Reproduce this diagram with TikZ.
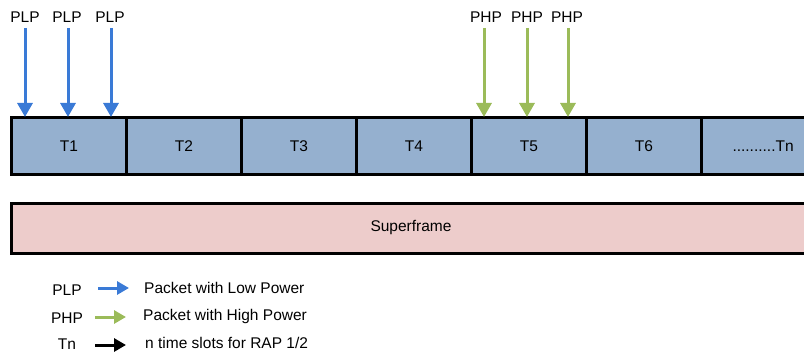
\documentclass[tikz,border=0pt]{standalone}
\usepackage{fontspec}
\setmainfont{Liberation Sans}
\usetikzlibrary{arrows.meta}
\definecolor{slotfill}{HTML}{95B0CF}
\definecolor{sframefill}{HTML}{EDCCCB}
\definecolor{plpblue}{HTML}{3A7AD6}
\definecolor{phpgreen}{HTML}{9BBB59}
\tikzset{
  slotbox/.style={draw=black, line width=3pt, fill=slotfill, minimum width=115pt, minimum height=57pt, anchor=north west, inner sep=0pt, font=\fontsize{15.5}{18}\selectfont},
  sfbox/.style={draw=black, line width=3pt, fill=sframefill, minimum width=820pt, minimum height=50pt, anchor=north west, inner sep=0pt},
  lbl/.style={font=\fontsize{15.5}{18}\selectfont, inner sep=0pt},
  plparrow/.style={draw=plpblue, line width=3pt, -{Triangle[length=14pt,width=15pt]}},
  phparrow/.style={draw=phpgreen, line width=3pt, -{Triangle[length=14pt,width=15pt]}},
  blkarrow/.style={draw=black, line width=3pt, -{Triangle[length=12pt,width=13pt]}},
}
\begin{document}
\begin{tikzpicture}[x=1pt,y=-1pt]
\useasboundingbox (0,0) rectangle (804,353);
\begin{scope}
\clip (0,0) rectangle (804,353);
% slots
\node[slotbox] (t1) at (10,116) {T1};
\node[slotbox] (t2) at (125,116) {T2};
\node[slotbox] (t3) at (240,116) {T3};
\node[slotbox] (t4) at (355,116) {T4};
\node[slotbox] (t5) at (470,116) {T5};
\node[slotbox] (t6) at (585,116) {T6};
\node[slotbox, minimum width=130pt, text width=110pt, align=left] (tn) at (700,116) {\hspace*{21pt}..........Tn};
% superframe
\node[sfbox] (sf) at (10,202) {};
\node[lbl] (sft) at (411,227) {Superframe};
\end{scope}
% PLP arrows
\node[lbl] (plp1) at (25,17) {PLP};
\node[lbl] (plp2) at (67,17) {PLP};
\node[lbl] (plp3) at (110,17) {PLP};
\coordinate (a1s) at (25,28); \coordinate (a1e) at (25,117);
\coordinate (a2s) at (68,28); \coordinate (a2e) at (68,117);
\coordinate (a3s) at (111,28); \coordinate (a3e) at (111,117);
\draw[plparrow] (a1s) -- (a1e);
\draw[plparrow] (a2s) -- (a2e);
\draw[plparrow] (a3s) -- (a3e);
% PHP arrows
\node[lbl] (php1) at (486,17) {PHP};
\node[lbl] (php2) at (527,17) {PHP};
\node[lbl] (php3) at (567,17) {PHP};
\coordinate (b1s) at (484,28); \coordinate (b1e) at (484,117);
\coordinate (b2s) at (527,28); \coordinate (b2e) at (527,117);
\coordinate (b3s) at (568,28); \coordinate (b3e) at (568,117);
\draw[phparrow] (b1s) -- (b1e);
\draw[phparrow] (b2s) -- (b2e);
\draw[phparrow] (b3s) -- (b3e);
% legend
\node[lbl] (lplp) at (67,290) {PLP};
\node[lbl] (lphp) at (67,318) {PHP};
\node[lbl] (ltn) at (67,344) {Tn};
\coordinate (l1s) at (98,288); \coordinate (l1e) at (129,288);
\coordinate (l2s) at (95,317); \coordinate (l2e) at (126,317);
\coordinate (l3s) at (95,345); \coordinate (l3e) at (126,345);
\draw[plparrow, -{Triangle[length=12pt,width=13pt]}] (l1s) -- (l1e);
\draw[phparrow, -{Triangle[length=12pt,width=13pt]}] (l2s) -- (l2e);
\draw[blkarrow] (l3s) -- (l3e);
\node[lbl, anchor=west] (d1) at (144,288) {Packet with Low Power};
\node[lbl, anchor=west] (d2) at (143,316) {Packet with High Power};
\node[lbl, anchor=west] (d3) at (145,343) {n time slots for RAP 1/2};
\end{tikzpicture}
\end{document}
